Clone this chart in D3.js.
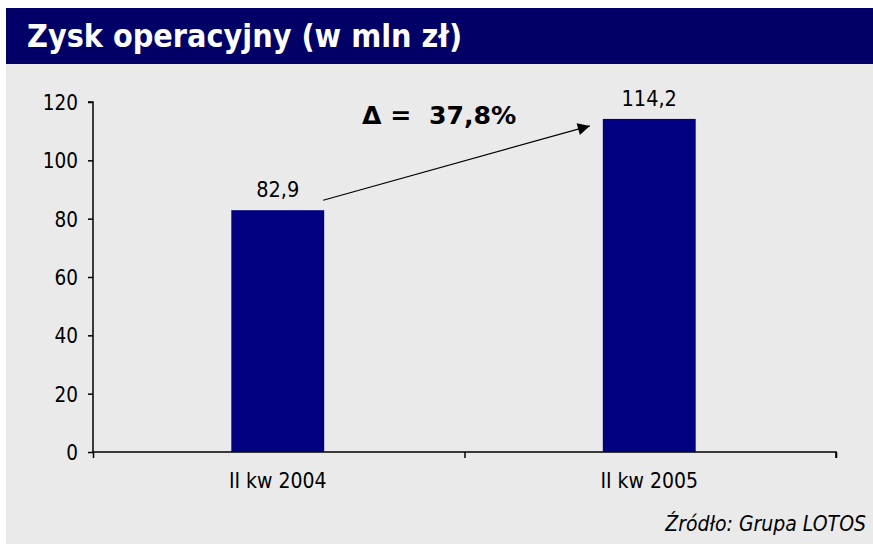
<!DOCTYPE html>
<html><head><meta charset="utf-8">
<script src="https://cdn.jsdelivr.net/npm/d3@7"></script>
<style>
html,body{margin:0;padding:0;background:#fff;}
svg{display:block;}
</style></head>
<body>
<script>
const categories = ["II kw 2004", "II kw 2005"];
const values = [82.9, 114.2];
const valueLabels = ["82,9", "114,2"];
const yTicks = [0, 20, 40, 60, 80, 100, 120];
const titleText = "Zysk operacyjny (w mln zł)";
const deltaText = "Δ =  37,8%";
const sourceText = "Źródło: Grupa LOTOS";

const W = 873, H = 544;
const svg = d3.select("body").append("svg").attr("width", W).attr("height", H);
const font = "'DejaVu Sans Condensed', Tahoma, 'DejaVu Sans', sans-serif";

svg.append("rect").attr("x", 6).attr("y", 64).attr("width", W - 6).attr("height", H - 64).attr("fill", "#eaeaea");
svg.append("rect").attr("x", 6).attr("y", 8).attr("width", W - 6).attr("height", 56).attr("fill", "#000066");
svg.append("text").attr("x", 27).attr("y", 47).attr("fill", "#fff")
  .attr("font-family", font).attr("font-weight", "bold")
  .attr("font-size", 32).text(titleText);

const x0 = 93, x1 = 836, yTop = 102, yBot = 452;
const x = d3.scaleBand().domain(categories).range([x0, x1]).paddingInner(0.75).paddingOuter(0.375);
const y = d3.scaleLinear().domain([0, 120]).range([yBot, yTop]);

// y axis
const yAxis = svg.append("g").attr("transform", `translate(${x0},0)`)
  .call(d3.axisLeft(y).tickValues(yTicks).tickSize(5).tickPadding(10).tickFormat(d3.format("d")));
yAxis.select(".domain").attr("stroke", "#000").attr("stroke-width", 1.5).attr("d", `M-5,${yTop}H0V${yBot}`);
yAxis.selectAll(".tick line").attr("stroke", "#000").attr("stroke-width", 1.5);
yAxis.selectAll("text").attr("font-family", font).attr("font-size", 20.5).attr("fill", "#000").attr("dy", "0.36em");

// bars
svg.selectAll("rect.bar").data(values).enter().append("rect").attr("class", "bar")
  .attr("x", (d, i) => x(categories[i]) - 1).attr("width", x.bandwidth())
  .attr("y", d => y(d)).attr("height", d => y(0) - y(d)).attr("fill", "#000080");

// x axis
const xb = d3.scaleLinear().domain([0, categories.length]).range([x0, x1]);
const xAxis = svg.append("g").attr("transform", `translate(0,${yBot})`)
  .call(d3.axisBottom(xb).tickValues(d3.range(categories.length + 1)).tickSize(6).tickFormat(""));
xAxis.select(".domain").attr("stroke", "#000").attr("stroke-width", 1.5).attr("d", `M${x0},0H${x1}V6`);
xAxis.selectAll(".tick line").attr("stroke", "#000").attr("stroke-width", 1.5);
svg.selectAll("text.cat").data(categories).enter().append("text").attr("class", "cat")
  .attr("x", d => x(d) + x.bandwidth() / 2 - 1).attr("y", 488).attr("text-anchor", "middle")
  .attr("font-family", font).attr("font-size", 21).attr("fill", "#000").text(d => d);

// value labels
svg.selectAll("text.val").data(values).enter().append("text").attr("class", "val")
  .attr("x", (d, i) => x(categories[i]) + x.bandwidth() / 2 - 1).attr("y", d => y(d) - 13)
  .attr("text-anchor", "middle").attr("font-family", font).attr("font-size", 21.5).attr("fill", "#000")
  .text((d, i) => valueLabels[i]);

// arrow
const defs = svg.append("defs");
defs.append("marker").attr("id", "ah").attr("viewBox", "0 0 10 10").attr("refX", 10).attr("refY", 5)
  .attr("markerWidth", 18).attr("markerHeight", 12).attr("markerUnits", "userSpaceOnUse").attr("orient", "auto")
  .append("path").attr("d", "M0,0L10,5L0,10Z").attr("fill", "#000");
const ax1 = x(categories[0]) + x.bandwidth() - 2, ay1 = y(values[0]) - 10;
const ax2 = x(categories[1]) - 14, ay2 = y(values[1]) + 7;
svg.append("line").attr("x1", ax1).attr("y1", ay1).attr("x2", ax2).attr("y2", ay2)
  .attr("stroke", "#000").attr("stroke-width", 1.2).attr("marker-end", "url(#ah)");

svg.append("text").attr("x", 362).attr("y", 124).attr("font-family", "'DejaVu Sans', sans-serif").attr("font-weight", "bold")
  .attr("font-size", 25.2).attr("fill", "#000").attr("xml:space", "preserve").style("white-space", "pre").text(deltaText);

svg.append("text").attr("x", 866).attr("y", 531).attr("text-anchor", "end").attr("font-family", font)
  .attr("font-style", "italic").attr("font-size", 21).attr("fill", "#000").text(sourceText);
</script>
</body></html>
